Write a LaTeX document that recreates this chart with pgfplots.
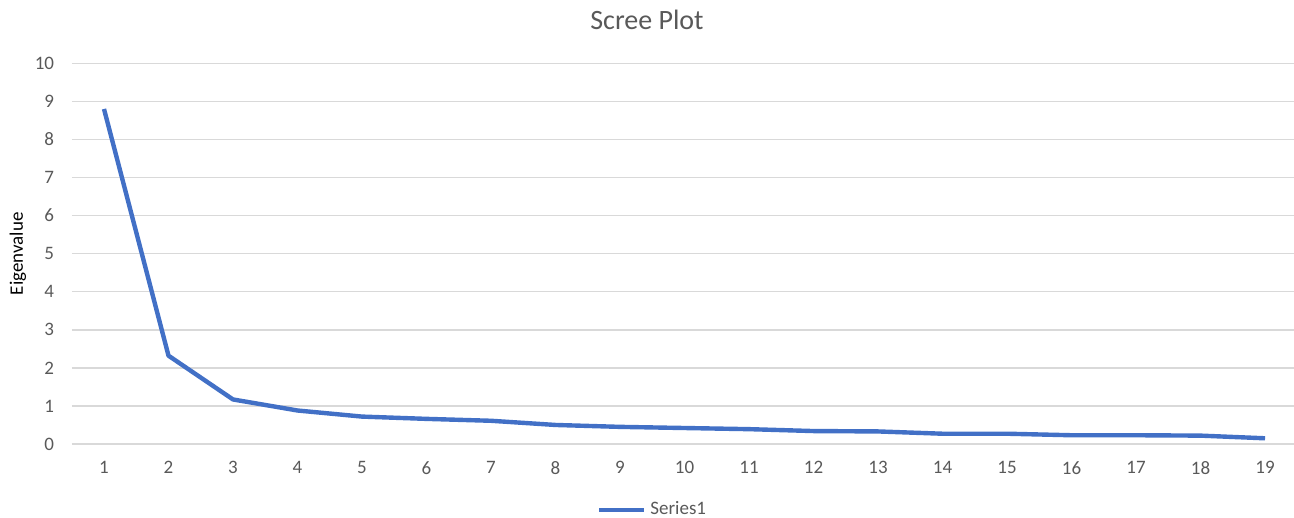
\documentclass[border=0pt]{standalone}
\usepackage{pgfplots}
\pgfplotsset{compat=1.18}
\usepackage{fontspec}
\setmainfont{Carlito}
\definecolor{s1}{HTML}{4270C6}
\definecolor{gridc}{HTML}{D9D9D9}
\definecolor{txt}{HTML}{595959}

\begin{document}
\begin{tikzpicture}
	\path[use as bounding box] (-35.875pt,-37pt) rectangle (611.125pt,222pt);
	\begin{axis}[
			at={(0,0)}, anchor=south west,
			scale only axis,
			width=611.15pt, height=190.35pt,
			xmin=0.5, xmax=19.45,
			ymin=0, ymax=10,
			xtick={1,...,19},
			ytick={0,...,10},
			axis line style={draw=none},
			major tick length=0pt,
			ymajorgrids,
			grid style={gridc, line width=0.75pt},
			/pgf/number format/assume math mode=true,
			tick label style={font=\fontsize{9.5}{11}\selectfont, text=txt},
			yticklabel style={xshift=-5.3pt},
			xticklabel style={yshift=-5.2pt},
			title={Scree Plot},
			every axis title/.style={at={(rel axis cs:0.4706,1.1137)}, anchor=center, font=\fontsize{14}{16}\selectfont, text=txt},
			ylabel={Eigenvalue},
			every axis y label/.style={at={(rel axis cs:-0.044,0.5)}, rotate=90, anchor=center, font=\fontsize{9.5}{11}\selectfont, text=black},
			legend style={at={(0.476,-0.173)}, anchor=center, draw=none, fill=none, font=\fontsize{9.5}{11}\selectfont, text=txt},
			legend image code/.code={\draw[#1] (0pt,0pt) -- (22.5pt,0pt);},
			clip=false
		]
		\addplot[s1, line width=2.2pt, line join=round] coordinates {
			(1,8.8)(2,2.32)(3,1.17)(4,0.88)(5,0.72)(6,0.66)(7,0.61)(8,0.50)(9,0.45)(10,0.42)
			(11,0.39)(12,0.34)(13,0.33)(14,0.27)(15,0.27)(16,0.23)(17,0.23)(18,0.22)(19,0.15)};
		\addlegendentry{Series1}
	\end{axis}
\end{tikzpicture}
\end{document}
